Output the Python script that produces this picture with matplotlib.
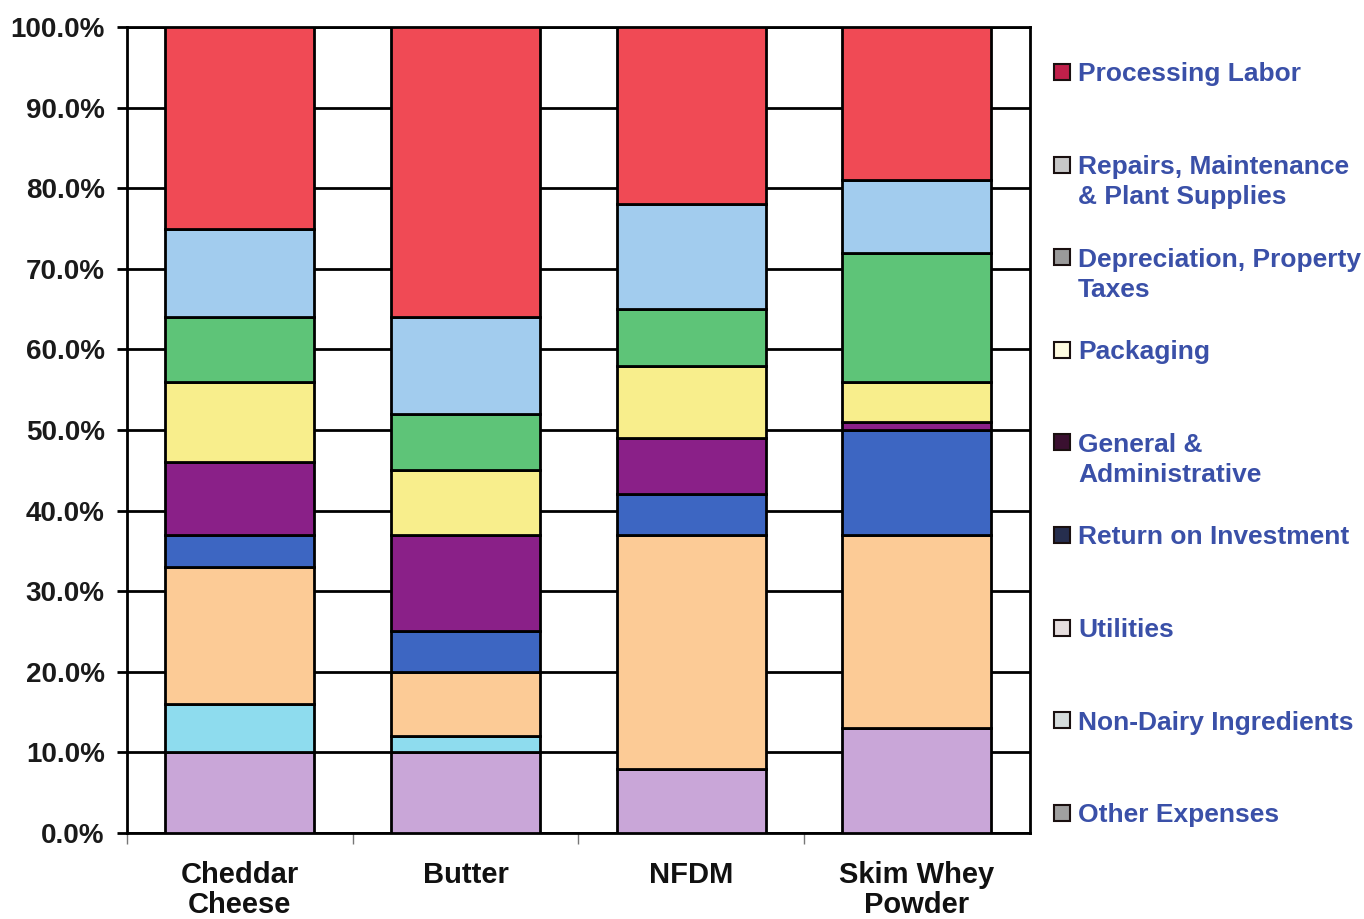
import numpy as np
import matplotlib
matplotlib.use("Agg")
import matplotlib.pyplot as plt
from matplotlib.patches import Rectangle

# data (percent of total cost), bottom segment first
categories = ["Cheddar\nCheese", "Butter", "NFDM", "Skim Whey\nPowder"]
series = ["Other Expenses", "Non-Dairy Ingredients", "Utilities",
          "Return on Investment", "General &\nAdministrative", "Packaging",
          "Depreciation, Property\nTaxes", "Repairs, Maintenance\n& Plant Supplies",
          "Processing Labor"]
other = [10, 10, 8, 13]
non_dairy = [6, 2, 0, 0]
utilities = [17, 8, 29, 24]
roi = [4, 5, 5, 13]
g_and_a = [9, 12, 7, 1]
packaging = [10, 8, 9, 5]
depreciation = [8, 7, 7, 16]
repairs = [11, 12, 13, 9]
labor = [25, 36, 22, 19]
values = [other, non_dairy, utilities, roi, g_and_a, packaging,
          depreciation, repairs, labor]

bar_colors = ["#c9a6d8", "#8edcee", "#fccb96", "#3d66c2", "#8a2088",
              "#f8ee8c", "#5ec478", "#a2ccee", "#f04a55"]
legend_colors = ["#a0a0a0", "#d6dcdc", "#e6dede", "#262e4e", "#3a1030",
                 "#fffbe0", "#9a9a9a", "#c8c8c8", "#c0204a"]

fig = plt.figure(figsize=(13.64, 9.19), dpi=100)
ax = fig.add_axes([0.093, 0.0936, 0.662, 0.877])

x = np.arange(len(categories))
bottom = np.zeros(len(categories))
for vals, col in zip(values, bar_colors):
    v = np.array(vals, dtype=float)
    ax.bar(x, v, 0.66, bottom=bottom, color=col, edgecolor="black",
           linewidth=2, zorder=3)
    bottom += v

ax.set_xlim(-0.5, 3.5)
ax.set_ylim(0, 100)
ax.set_yticks(np.arange(0, 101, 10))
ax.set_yticklabels(["%.1f%%" % t for t in np.arange(0, 101, 10)],
                   fontsize=20, fontweight="bold", color="#1a1a1a",
                   family="Liberation Sans")
ax.tick_params(axis="y", length=7, width=2, pad=9, color="black")
ax.yaxis.grid(True, color="black", linewidth=2, zorder=0)
ax.set_axisbelow(True)

ax.set_xticks(x)
ax.set_xticklabels(categories, fontsize=21, fontweight="bold",
                   family="Liberation Sans", color="#111111",
                   linespacing=1.12, va="top")
ax.tick_params(axis="x", length=0, pad=20)
ax.set_xticks([-0.5, 0.5, 1.5, 2.5], minor=True)
ax.tick_params(axis="x", which="minor", length=8, width=1, color="#777777")

for s in ["left", "right", "bottom", "top"]:
    ax.spines[s].set_linewidth(2)
    ax.spines[s].set_color("black")

# legend drawn by hand, top entry first
W, H = 1364.0, 919.0
slot_y = [72 + 92.6 * i for i in range(len(series))]
for i, (name, col) in enumerate(zip(series[::-1], legend_colors[::-1])):
    yc = slot_y[i]
    fig.patches.append(Rectangle((1054 / W, 1 - (yc + 8) / H), 16 / W, 16 / H,
                                 transform=fig.transFigure, facecolor=col,
                                 edgecolor="#1a1010", linewidth=1.5))
    for j, line in enumerate(name.split("\n")):
        fig.text(1078 / W, 1 - (yc + 9.5 + 30 * j) / H, line, fontsize=19,
                 fontweight="bold", color="#3a50a8", va="baseline", ha="left",
                 family="Liberation Sans")

fig.savefig("out.png", dpi=100)
